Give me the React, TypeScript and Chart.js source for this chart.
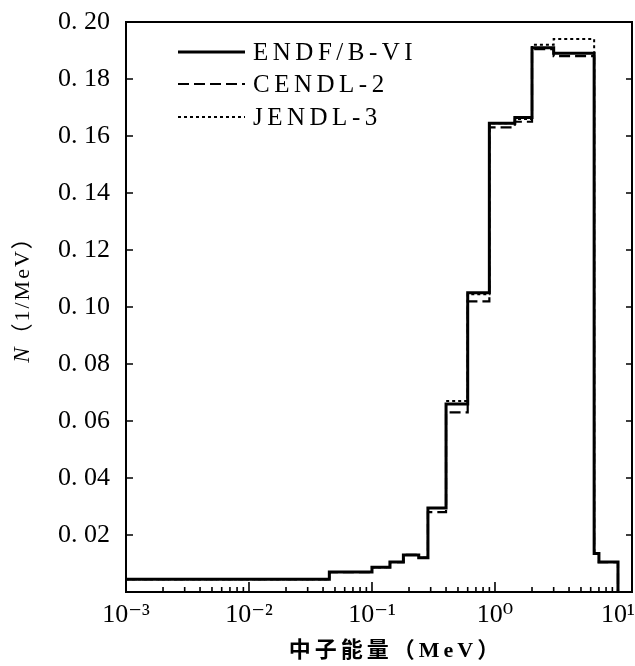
import React, { useEffect, useRef } from "react";
import { Chart, registerables } from "chart.js";

Chart.register(...registerables);

// Group boundaries (MeV) of the histogram
const binEdges = [0.001, 0.045, 0.1, 0.14, 0.18, 0.24, 0.285, 0.4, 0.6, 0.9, 1.45, 2.0, 3.0, 6.4, 7.0, 10];
// Values per group, N (1/MeV)
const endfValues = [0.0045, 0.007, 0.0087, 0.0105, 0.013, 0.012, 0.0295, 0.066, 0.105, 0.1645, 0.1665, 0.191, 0.189, 0.0135, 0.0105];
const cendlValues = [0.0045, 0.007, 0.0087, 0.0105, 0.013, 0.012, 0.028, 0.063, 0.102, 0.163, 0.165, 0.1905, 0.188, 0.0135, 0.0105];
const jendlValues = [0.0045, 0.007, 0.0087, 0.0105, 0.013, 0.012, 0.0295, 0.067, 0.1045, 0.1645, 0.166, 0.192, 0.194, 0.0135, 0.0105];

const seriesNames = ["ENDF/B-VI", "CENDL-2", "JENDL-3"];
const xMajorTicks = [0.001, 0.01, 0.1, 1, 10];
const xTickLabels = ["10\u207B\u00B3", "10\u207B\u00B2", "10\u207B\u00B9", "10\u2070", "10\u00B9"];
const yTickValues = [0.02, 0.04, 0.06, 0.08, 0.1, 0.12, 0.14, 0.16, 0.18, 0.2];
const xTitle = "中子能量（MeV）";
const yTitleItalic = "N";
const yTitleRest = "（1/MeV）";

const X_MIN = 0.001;
const X_MAX = 13;
const SERIF = "'Liberation Serif', 'DejaVu Serif', serif";
const MIXED = "'Liberation Serif', 'Noto Sans CJK SC', serif";

function stepPoints(values: number[]) {
  const pts = binEdges.map((e, i) => ({ x: e, y: values[Math.min(i, values.length - 1)] }));
  pts.push({ x: binEdges[binEdges.length - 1], y: 0 });
  return pts;
}

const dashes: number[][] = [[], [11, 5], [3, 3]];
const widths = [3, 2.2, 2];

const decorPlugin = {
  id: "decor",
  afterDraw(chart: any) {
    const { ctx, chartArea: a, scales } = chart;
    const xs = scales.x;
    const ys = scales.y;
    ctx.save();
    ctx.strokeStyle = "#000";
    ctx.fillStyle = "#000";
    // frame
    ctx.lineWidth = 2;
    ctx.strokeRect(a.left, a.top, a.right - a.left, a.bottom - a.top);
    // x ticks (inward)
    ctx.lineWidth = 1.6;
    for (let d = -3; d <= 1; d++) {
      for (let m = 1; m <= 9; m++) {
        const v = m * Math.pow(10, d);
        if (v > X_MAX) break;
        const px = xs.getPixelForValue(v);
        const len = m === 1 ? 10 : 5;
        ctx.beginPath();
        ctx.moveTo(px, a.bottom);
        ctx.lineTo(px, a.bottom - len);
        ctx.stroke();
      }
    }
    // y ticks on both sides (inward)
    for (const v of yTickValues) {
      const py = ys.getPixelForValue(v);
      ctx.beginPath();
      ctx.moveTo(a.left, py);
      ctx.lineTo(a.left + 7, py);
      ctx.moveTo(a.right, py);
      ctx.lineTo(a.right - 6, py);
      ctx.stroke();
    }
    // legend
    const lx0 = a.left + 52;
    const lx1 = a.left + 119;
    const ly = [a.top + 30, a.top + 62, a.top + 95];
    seriesNames.forEach((name, i) => {
      ctx.save();
      ctx.lineWidth = widths[i];
      ctx.setLineDash(dashes[i]);
      ctx.beginPath();
      ctx.moveTo(lx0, ly[i]);
      ctx.lineTo(lx1, ly[i]);
      ctx.stroke();
      ctx.restore();
      ctx.font = `25px ${SERIF}`;
      (ctx as any).letterSpacing = "4.5px";
      ctx.textAlign = "left";
      ctx.textBaseline = "middle";
      ctx.fillText(name, lx1 + 8, ly[i] + 1);
    });
    // x title
    ctx.font = `bold 22px ${MIXED}`;
    (ctx as any).letterSpacing = "4px";
    ctx.textAlign = "center";
    ctx.textBaseline = "middle";
    ctx.fillText(xTitle, 396, 651);
    // y title (rotated)
    ctx.save();
    ctx.translate(23, 294);
    ctx.rotate(-Math.PI / 2);
    (ctx as any).letterSpacing = "2px";
    ctx.font = `italic 23px ${SERIF}`;
    const w1 = ctx.measureText(yTitleItalic).width;
    ctx.font = `22px ${MIXED}`;
    const w2 = ctx.measureText(yTitleRest).width;
    const start = -(w1 + w2) / 2;
    ctx.textAlign = "left";
    ctx.textBaseline = "middle";
    ctx.font = `italic 23px ${SERIF}`;
    ctx.fillText(yTitleItalic, start, 0);
    ctx.font = `22px ${MIXED}`;
    ctx.fillText(yTitleRest, start + w1, 0);
    ctx.restore();
    ctx.restore();
  },
};

export default function App() {
  const ref = useRef<HTMLCanvasElement | null>(null);
  useEffect(() => {
    if (!ref.current) return;
    const seriesValues = [endfValues, cendlValues, jendlValues];
    const datasets = seriesNames
      .map((name, i) => ({
        label: name,
        data: stepPoints(seriesValues[i]),
        borderColor: "#000",
        backgroundColor: "#000",
        borderWidth: widths[i],
        borderDash: dashes[i],
        stepped: "before" as const,
        pointRadius: 0,
        fill: false,
        order: i,
      }))
      .reverse();
    const chart = new Chart(ref.current, {
      type: "line",
      data: { datasets },
      options: {
        animation: false,
        responsive: false,
        layout: { padding: { top: 22, right: 3, left: 0, bottom: 0 } },
        plugins: { legend: { display: false }, tooltip: { enabled: false } },
        scales: {
          x: {
            type: "logarithmic",
            min: X_MIN,
            max: X_MAX,
            grid: { display: false, drawTicks: false },
            border: { display: false },
            afterBuildTicks: (scale: any) => {
              scale.ticks = xMajorTicks.map((v) => ({ value: v, major: true }));
            },
            afterFit: (scale: any) => {
              scale.height = 74;
              scale.paddingLeft = 0;
              scale.paddingRight = 0;
            },
            ticks: {
              autoSkip: false,
              maxRotation: 0,
              padding: 8,
              color: "#000",
              font: { family: SERIF, size: 26 },
              callback: (value: any) => {
                const idx = xMajorTicks.findIndex((t) => Math.abs(t - Number(value)) / t < 1e-6);
                return idx >= 0 ? xTickLabels[idx] : "";
              },
            },
          },
          y: {
            type: "linear",
            min: 0,
            max: 0.2,
            grid: { display: false, drawTicks: false },
            border: { display: false },
            afterFit: (scale: any) => {
              scale.width = 126;
              scale.paddingTop = 0;
              scale.paddingBottom = 0;
            },
            afterBuildTicks: (scale: any) => {
              scale.ticks = yTickValues.map((v) => ({ value: v }));
            },
            ticks: {
              padding: 16,
              color: "#000",
              font: { family: SERIF, size: 26 },
              callback: (value: any) => Number(value).toFixed(2).replace(".", ". "),
            },
          },
        },
      },
      plugins: [decorPlugin],
    });
    return () => chart.destroy();
  }, []);
  return (
    <div style={{ position: "fixed", left: 0, top: 0, width: 635, height: 666, background: "#fff", overflow: "hidden" }}>
      <canvas ref={ref} width={635} height={666} />
    </div>
  );
}
